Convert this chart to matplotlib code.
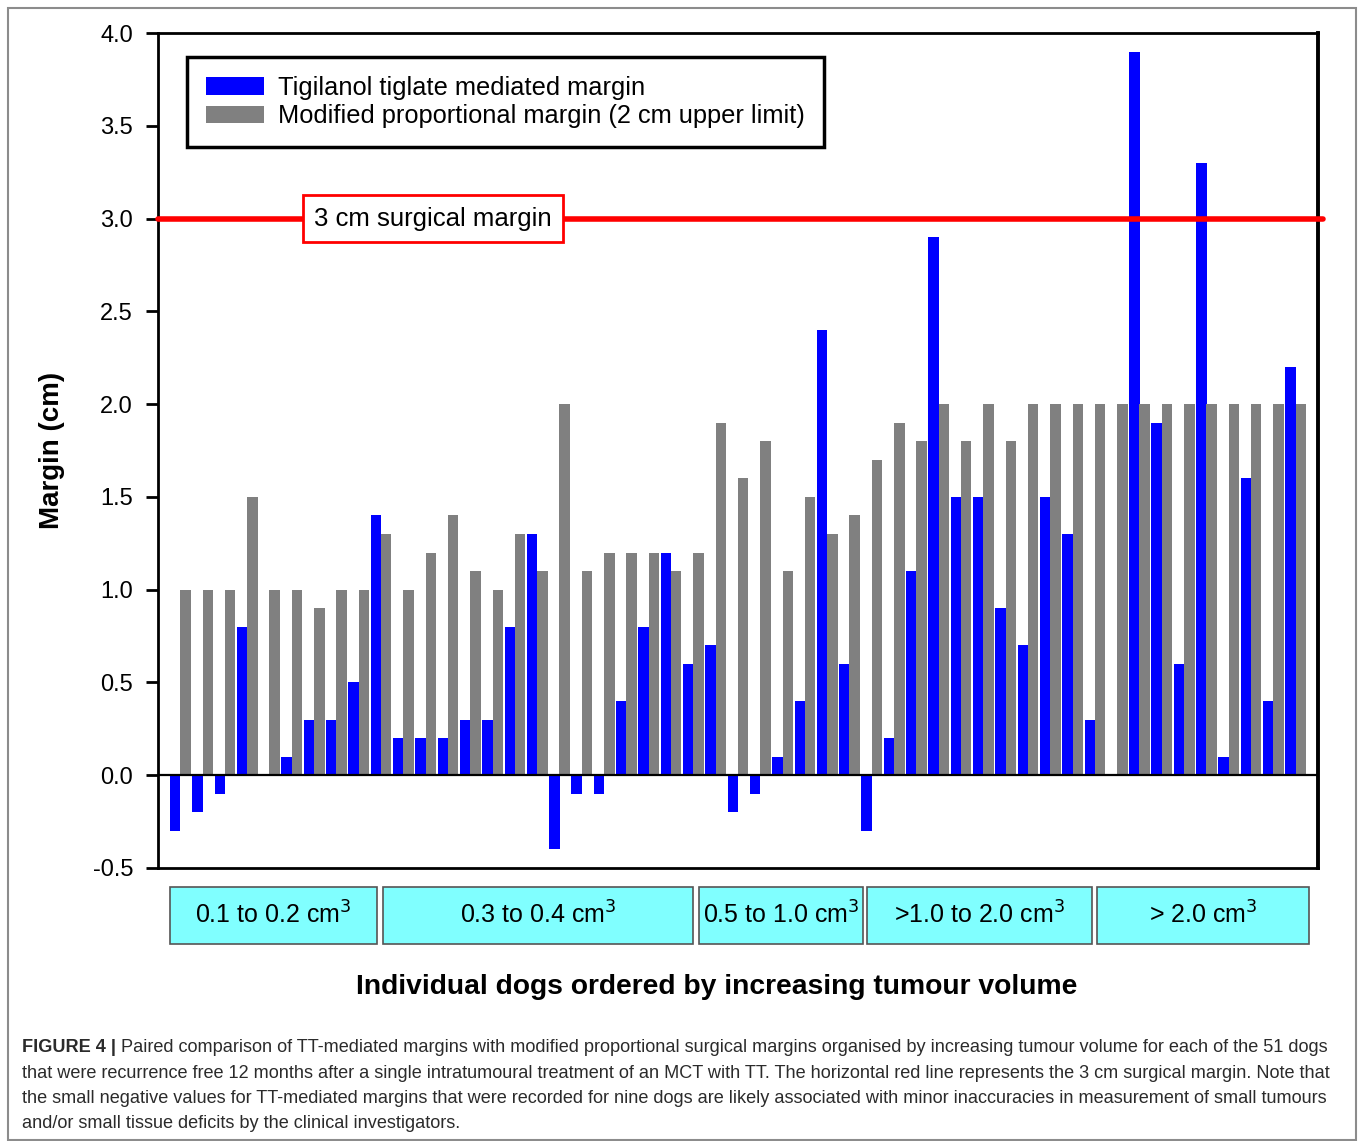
import numpy as np
import matplotlib
matplotlib.use("Agg")
import matplotlib.pyplot as plt
from matplotlib.patches import Rectangle, Patch
from matplotlib.transforms import blended_transform_factory

plt.rcParams["font.family"] = ["Liberation Sans", "DejaVu Sans"]

# ── data ─────────────────────────────────────────────
tt_margin = [-0.3, -0.2, -0.1, 0.8, 0.0, 0.1, 0.3, 0.3, 0.5, 1.4,
             0.2, 0.2, 0.2, 0.3, 0.3, 0.8, 1.3, -0.4, -0.1, -0.1,
             0.4, 0.8, 1.2, 0.6, 0.7, -0.2, -0.1, 0.1, 0.4, 2.4,
             0.6, -0.3, 0.2, 1.1, 2.9, 1.5, 1.5, 0.9, 0.7, 1.5,
             1.3, 0.3, 0.0, 3.9, 1.9, 0.6, 3.3, 0.1, 1.6, 0.4,
             2.2]
prop_margin = [1.0, 1.0, 1.0, 1.5, 1.0, 1.0, 0.9, 1.0, 1.0, 1.3,
               1.0, 1.2, 1.4, 1.1, 1.0, 1.3, 1.1, 2.0, 1.1, 1.2,
               1.2, 1.2, 1.1, 1.2, 1.9, 1.6, 1.8, 1.1, 1.5, 1.3,
               1.4, 1.7, 1.9, 1.8, 2.0, 1.8, 2.0, 1.8, 2.0, 2.0,
               2.0, 2.0, 2.0, 2.0, 2.0, 2.0, 2.0, 2.0, 2.0, 2.0,
               2.0]
group_labels = ["0.1 to 0.2 cm$^3$", "0.3 to 0.4 cm$^3$", "0.5 to 1.0 cm$^3$",
                ">1.0 to 2.0 cm$^3$", "> 2.0 cm$^3$"]
series_labels = ["Tigilanol tiglate mediated margin",
                 "Modified proportional margin (2 cm upper limit)"]
surgical_margin = 3.0
y_ticks = [-0.5, 0.0, 0.5, 1.0, 1.5, 2.0, 2.5, 3.0, 3.5, 4.0]

# group box extents along the dog axis (layout)
group_spans = [(0.55, 9.8), (10.1, 24.0), (24.25, 31.6), (31.8, 41.85), (42.1, 51.6)]

caption_lines = [
    "that were recurrence free 12 months after a single intratumoural treatment of an MCT with TT. "
    "The horizontal red line represents the 3 cm surgical margin. Note that",
    "the small negative values for TT-mediated margins that were recorded for nine dogs are likely "
    "associated with minor inaccuracies in measurement of small tumours",
    "and/or small tissue deficits by the clinical investigators.",
]
caption_first = ("Paired comparison of TT-mediated margins with modified proportional surgical "
                 "margins organised by increasing tumour volume for each of the 51 dogs")

W, H = 1358, 1141
fig = plt.figure(figsize=(W / 100, H / 100), dpi=100, facecolor="white")
ax = fig.add_axes([158 / W, 1 - 868 / H, 1160 / W, 835 / H])

x = np.arange(1, len(tt_margin) + 1)
bw = 0.47
ax.bar(x - 0.23, tt_margin, width=bw, color="#0000FF", edgecolor="none",
       label=series_labels[0], zorder=2)
ax.bar(x + 0.23, prop_margin, width=bw, color="#808080", edgecolor="none",
       label=series_labels[1], zorder=2)

ax.axhline(0, color="black", lw=1.6, zorder=3)
ax.axhline(surgical_margin, color="#FF0000", lw=4, xmin=0, xmax=1.004,
           clip_on=False, zorder=4, solid_capstyle="round")
ax.text(12.33, surgical_margin, "3 cm surgical margin", fontsize=18.5,
        ha="center", va="center", zorder=5,
        bbox=dict(boxstyle="square,pad=0.45", facecolor="white",
                  edgecolor="#FF0000", linewidth=2))

ax.set_xlim(0, 52)
ax.set_ylim(-0.5, 4.0)
ax.set_yticks(y_ticks)
ax.set_yticklabels([f"{v:.1f}" for v in y_ticks])
ax.set_xticks([])
ax.tick_params(axis="y", direction="out", length=9, width=2, labelsize=17, pad=9)
for side in ["left", "bottom", "top"]:
    ax.spines[side].set_linewidth(2)
ax.spines["right"].set_linewidth(2.8)

handles = [Patch(facecolor="#0000FF", edgecolor="none"),
           Patch(facecolor="#808080", edgecolor="none")]
leg = ax.legend(handles, series_labels, loc="upper left",
                bbox_to_anchor=(29 / 1160, 1 - 24 / 835), borderaxespad=0,
                fontsize=18.3, frameon=True, fancybox=False, framealpha=1,
                handlelength=2.3, handleheight=0.7, handletextpad=0.55,
                labelspacing=0.18, borderpad=0.74)
leg.get_frame().set_edgecolor("black")
leg.get_frame().set_linewidth(2.5)
leg.set_zorder(6)

ax.set_ylabel("Margin (cm)", fontsize=20, fontweight="bold")
ax.yaxis.set_label_coords(-93 / 1160, 0.5)

# group boxes under the axis
tr = blended_transform_factory(ax.transData, fig.transFigure)
box_bottom = 1 - 944 / H
box_h = 57 / H
for (x0, x1), lab in zip(group_spans, group_labels):
    ax.add_patch(Rectangle((x0, box_bottom), x1 - x0, box_h, transform=tr,
                           facecolor="#80FFFF", edgecolor="#555555", lw=1.2,
                           clip_on=False))
    ax.text((x0 + x1) / 2, box_bottom + box_h / 2, lab, transform=tr,
            ha="center", va="center", fontsize=18, clip_on=False)

fig.text(717 / W, 1 - 987 / H, "Individual dogs ordered by increasing tumour volume",
         fontsize=20.3, fontweight="bold", ha="center", va="center")

# caption
cap_color = "#2b2b2b"
cap_size = 13.05
t0 = fig.text(22 / W, 1 - 1048 / H, "FIGURE 4 |", fontsize=cap_size,
              fontweight="bold", color=cap_color, ha="left", va="center")
ax.annotate(" " + caption_first, xy=(1, 0.5), xycoords=t0, fontsize=cap_size,
            color=cap_color, ha="left", va="center", annotation_clip=False)
for k, line in enumerate(caption_lines):
    fig.text(22 / W, 1 - (1073 + 25.5 * k) / H, line, fontsize=cap_size,
             color=cap_color, ha="left", va="center")

# outer frame
fig.patches.append(Rectangle((8 / W, 1 - 1140 / H), 1348 / W, 1132 / H,
                             transform=fig.transFigure, facecolor="none",
                             edgecolor="#8c8c8c", lw=1.5))

fig.savefig("out.png", dpi=100, facecolor="white")
